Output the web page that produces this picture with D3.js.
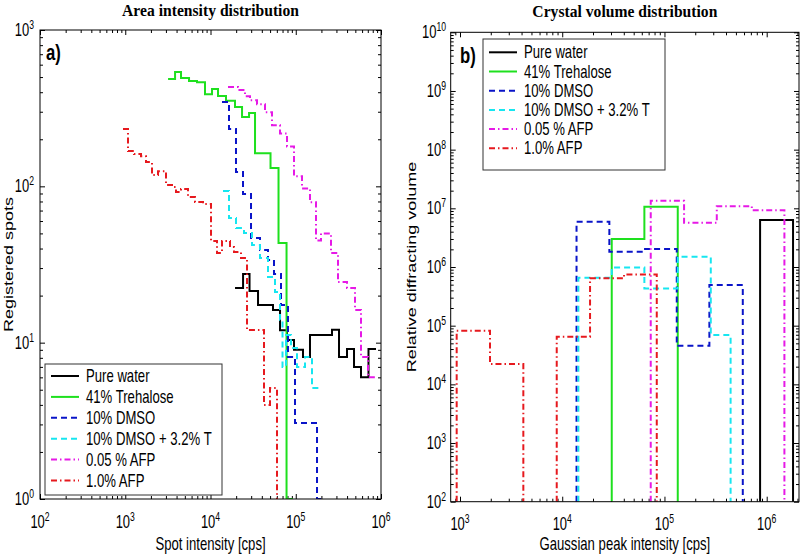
<!DOCTYPE html>
<html><head><meta charset="utf-8">
<script src="https://cdn.jsdelivr.net/npm/d3@7"></script>
<style>body{margin:0;background:#fff}svg{display:block}</style>
</head><body>
<svg id="chart" width="800" height="557"></svg>
<script>
// ---------------- DATA ----------------
const seriesNames = ["Pure water", "41% Trehalose", "10% DMSO", "10% DMSO + 3.2% T", "0.05 % AFP", "1.0% AFP"];

// Panel a) Area intensity distribution: bin edges [cps] and registered spots per bin
const waterAreaEdges  = [19400, 24100, 28700, 36100, 54100, 65400, 79000, 95400, 121600, 146900, 266200, 321700, 399300, 482500, 582600, 713500, 873500];
const waterAreaCounts = [22.4, 27.5, 21.4, 17.4, 16.2, 12.0, 10.4, 9.0, 8.1, 11.2, 12.1, 8.1, 9.1, 7.0, 6.0, 9.1];

const trehAreaEdges  = [3180, 3840, 4510, 5600, 6950, 8620, 10420, 12250, 15200, 19380, 23440, 28330, 33290, 50590, 62800, 77980, 92900];
const trehAreaCounts = [486, 539, 494, 472, 464, 388, 420, 378, 353, 322, 278, 295, 163, 131, 43.4, 1];

const dmsoAreaEdges  = [13640, 16480, 19910, 24060, 29870, 38070, 47260, 55560, 67140, 81140, 98000, 177600, 214500];
const dmsoAreaCounts = [346, 233, 123.5, 89.3, 46.7, 39.2, 33.8, 27.5, 17.4, 8.1, 3.06, 1];

const dmsoTAreaEdges  = [14020, 16480, 19910, 24720, 30690, 38070, 47260, 57090, 65350, 69930, 76850, 87960, 103400, 128400, 155100, 187400];
const dmsoTAreaCounts = [93.4, 62.7, 54.1, 50.3, 42.1, 34.8, 26.3, 21.1, 14.0, 7.0, 11.2, 9.25, 7.0, 8.1, 5.13];

const afp005AreaEdges  = [16045, 21020, 25390, 29060, 35130, 43590, 52640, 65350, 78980, 95390, 118400, 146900, 172800, 197800, 259100, 313100, 399300, 495500, 582600, 703900, 850400];
const afp005AreaCounts = [432, 413, 377, 355, 335, 298, 246, 218, 180, 116, 97, 79, 45, 50, 37.5, 24.4, 22.4, 16.2, 8.1, 6.0];

const afp1AreaEdges  = [941, 1077, 1266, 1530, 1752, 2060, 2423, 3006, 3535, 3938, 4508, 5446, 6580, 8167, 10140, 11920, 13640, 16930, 18870, 22790, 26810, 42420, 49880, 60270, 70000];
const afp1AreaCounts = [233, 168, 161, 156, 143, 118, 125, 102, 99, 92, 96, 85.5, 79.4, 77.1, 44.7, 37.5, 44.7, 40.9, 38.0, 34.8, 12.05, 4.0, 5.13, 0];

// Panel b) Crystal volume distribution: bin edges [cps] and relative diffracting volume
const waterVolEdges  = [861800, 1810000];
const waterVolValues = [6.3e6];
const trehVolEdges   = [30500, 63600, 134900];
const trehVolValues  = [3.0e6, 1.06e7];
const dmsoVolEdges   = [13800, 28900, 62150, 131900, 275000, 583600];
const dmsoVolValues  = [5.89e6, 1.82e6, 2.02e6, 45500, 492000];
const dmsoTVolEdges  = [14380, 30500, 63600, 134900, 283800, 443500];
const dmsoTVolValues = [6.55e5, 9.84e5, 4.32e5, 1.49e6, 69200];
const afp005VolEdges  = [73400, 155500, 324900, 714900, 1490000];
const afp005VolValues = [1.34e7, 5.66e6, 1.09e7, 9.31e6];
const afp1VolEdges  = [928, 1966, 4164, 8835, 18710, 40240, 84080];
const afp1VolValues = [81900, 22200, 0, 64700, 6.4e5, 7.48e5];

// Axis domains and tick exponents
const areaXDomain = [1e2, 1e6], areaYDomain = [1, 1e3];
const volXDomain = [811, 2.07e6], volYDomain = [1e2, 1e10];
const areaXExps = [2, 3, 4, 5, 6], areaYExps = [0, 1, 2, 3];
const volXExps = [3, 4, 5, 6], volYExps = [2, 3, 4, 5, 6, 7, 8, 9, 10];

// ---------------- STYLE ----------------
const colors = ["#000000", "#1ee01e", "#0a14c8", "#17e6f0", "#e619e6", "#e6191e"];
const dashes = [null, null, "6,4", "6,4", "6,3,1.5,3", "6,3,1.5,3"];
const SANS = '"Liberation Sans", Arial, Helvetica, sans-serif';
const SERIF = '"Liberation Serif", "Times New Roman", serif';
const SQ = 0.73; // horizontal squeeze of the original figure's text

const svg = d3.select("#chart");

function txt(parent, x, y, s, o = {}) {
  const sc = o.rot ? `scale(1,${o.sx || 1})` : `scale(${o.sx || 1},1)`;
  const t = parent.append("text")
    .attr("transform", `translate(${x},${y})${o.rot ? ` rotate(${o.rot})` : ""} ${sc}`)
    .attr("text-anchor", o.anchor || "start")
    .style("font-family", o.family || SANS)
    .style("font-size", (o.size || 18) + "px")
    .style("font-weight", o.weight || "normal")
    .attr("fill", "#000");
  if (s) t.text(s);
  return t;
}
function powLabel(parent, x, y, exp, anchor) {
  const t = txt(parent, x, y, "", { anchor, sx: 0.72, size: 18 });
  t.append("tspan").text("10");
  t.append("tspan").attr("dy", -7).style("font-size", "12px").text(exp);
}
function minorTicks(domain) {
  const out = [];
  for (let e = Math.floor(Math.log10(domain[0])); e <= Math.ceil(Math.log10(domain[1])); e++)
    for (let k = 2; k <= 9; k++) { const v = k * Math.pow(10, e); if (v > domain[0] && v < domain[1]) out.push(v); }
  return out;
}
function stepData(edges, vals, floor, fromFloor) {
  const pts = [];
  if (fromFloor) pts.push([edges[0], floor]);
  vals.forEach((v, i) => {
    if (v > 0) { pts.push([edges[i], v]); pts.push([edges[i + 1], v]); }
    else { pts.push([edges[i], floor]); pts.push(null); pts.push([edges[i + 1], floor]); }
  });
  if (fromFloor) pts.push([edges[edges.length - 1], floor]);
  return pts;
}

function panel(cfg) {
  const g = svg.append("g");
  const x = d3.scaleLog().domain(cfg.xDomain).range(cfg.xRange);
  const y = d3.scaleLog().domain(cfg.yDomain).range(cfg.yRange);
  const [x0, x1] = cfg.xRange, [yb, yt] = cfg.yRange;

  const clipId = "clip" + cfg.id;
  svg.append("clipPath").attr("id", clipId).append("rect")
    .attr("x", x0).attr("y", yt).attr("width", x1 - x0).attr("height", yb - yt);

  const xMaj = cfg.xExps.map(e => Math.pow(10, e)).filter(v => v >= cfg.xDomain[0] && v <= cfg.xDomain[1]);
  const yMaj = cfg.yExps.map(e => Math.pow(10, e));
  const xMin = minorTicks(cfg.xDomain), yMin = minorTicks(cfg.yDomain);
  const L = 5, l = 3;
  const axes = [
    [d3.axisBottom(x), `translate(0,${yb})`, xMaj, L], [d3.axisBottom(x), `translate(0,${yb})`, xMin, l],
    [d3.axisTop(x), `translate(0,${yt})`, xMaj, L], [d3.axisTop(x), `translate(0,${yt})`, xMin, l],
    [d3.axisLeft(y), `translate(${x0},0)`, yMaj, L], [d3.axisLeft(y), `translate(${x0},0)`, yMin, l],
    [d3.axisRight(y), `translate(${x1},0)`, yMaj, L], [d3.axisRight(y), `translate(${x1},0)`, yMin, l]
  ];
  axes.forEach(([ax, tr, vals, len]) => {
    const a = g.append("g").attr("transform", tr)
      .call(ax.tickValues(vals).tickSize(-len).tickFormat(""));
    a.select(".domain").remove();
    a.selectAll("line").attr("stroke", "#000").attr("stroke-width", 1);
  });

  // data
  const line = d3.line().defined(d => d !== null).x(d => x(d[0])).y(d => y(d[1]));
  const lines = g.append("g").attr("clip-path", `url(#${clipId})`);
  cfg.series.forEach((s, i) => {
    lines.append("path")
      .attr("d", line(stepData(s[0], s[1], cfg.yDomain[0], cfg.fromFloor)))
      .attr("fill", "none").attr("stroke", colors[i]).attr("stroke-width", 2)
      .attr("stroke-dasharray", dashes[i]);
  });

  // frame
  g.append("rect").attr("x", x0).attr("y", yt).attr("width", x1 - x0).attr("height", yb - yt)
    .attr("fill", "none").attr("stroke", "#000").attr("stroke-width", 1);

  // tick labels
  cfg.xExps.forEach(e => { const v = Math.pow(10, e); if (v >= cfg.xDomain[0] && v <= cfg.xDomain[1]) powLabel(g, x(v), cfg.xLabelY, e, "middle"); });
  cfg.yExps.forEach(e => powLabel(g, cfg.yLabelX, y(Math.pow(10, e)) + 6, e, "end"));

  // titles
  txt(g, (x0 + x1) / 2, cfg.titleY, cfg.title, { anchor: "middle", family: SERIF, weight: "bold", size: 17, sx: 0.92 });
  txt(g, (x0 + x1) / 2, 550, cfg.xTitle, { anchor: "middle", size: 18, sx: SQ });
  txt(g, cfg.yTitleX, (yt + yb) / 2, cfg.yTitle, { anchor: "middle", size: 18, sx: 0.75, rot: -90 });
  txt(g, cfg.tagX, cfg.tagY, cfg.tag, { size: 22, weight: "bold", sx: 0.76 });

  // legend
  const lg = cfg.legend;
  g.append("rect").attr("x", lg.x).attr("y", lg.y).attr("width", lg.w).attr("height", lg.h)
    .attr("fill", "#fff").attr("stroke", "#333").attr("stroke-width", 1);
  seriesNames.forEach((n, i) => {
    const ly = lg.firstY + i * lg.step;
    g.append("line").attr("x1", lg.x + 6).attr("x2", lg.x + 34).attr("y1", ly).attr("y2", ly)
      .attr("stroke", colors[i]).attr("stroke-width", 2).attr("stroke-dasharray", dashes[i]);
    txt(g, lg.x + 41, ly + 6, n, { size: 18, sx: SQ });
  });
}

panel({
  id: "a", xDomain: areaXDomain, yDomain: areaYDomain, xRange: [40, 381], yRange: [499, 30],
  xExps: areaXExps, yExps: areaYExps, fromFloor: false,
  series: [[waterAreaEdges, waterAreaCounts], [trehAreaEdges, trehAreaCounts], [dmsoAreaEdges, dmsoAreaCounts],
           [dmsoTAreaEdges, dmsoTAreaCounts], [afp005AreaEdges, afp005AreaCounts], [afp1AreaEdges, afp1AreaCounts]],
  xLabelY: 528, yLabelX: 34, title: "Area intensity distribution", titleY: 16,
  xTitle: "Spot intensity [cps]", yTitle: "Registered spots", yTitleX: 13,
  tag: "a)", tagX: 46, tagY: 60,
  legend: { x: 45, y: 364, w: 177, h: 131, firstY: 376, step: 20.9 }
});

panel({
  id: "b", xDomain: volXDomain, yDomain: volYDomain, xRange: [450.7, 799], yRange: [501.7, 32.3],
  xExps: volXExps, yExps: volYExps, fromFloor: true,
  series: [[waterVolEdges, waterVolValues], [trehVolEdges, trehVolValues], [dmsoVolEdges, dmsoVolValues],
           [dmsoTVolEdges, dmsoTVolValues], [afp005VolEdges, afp005VolValues], [afp1VolEdges, afp1VolValues]],
  xLabelY: 530, yLabelX: 446, title: "Crystal volume distribution", titleY: 16.5,
  xTitle: "Gaussian peak intensity [cps]", yTitle: "Relative diffracting volume", yTitleX: 416,
  tag: "b)", tagX: 460, tagY: 63,
  legend: { x: 483, y: 39, w: 182, h: 131, firstY: 52.3, step: 19.2 }
});
</script>
</body></html>
